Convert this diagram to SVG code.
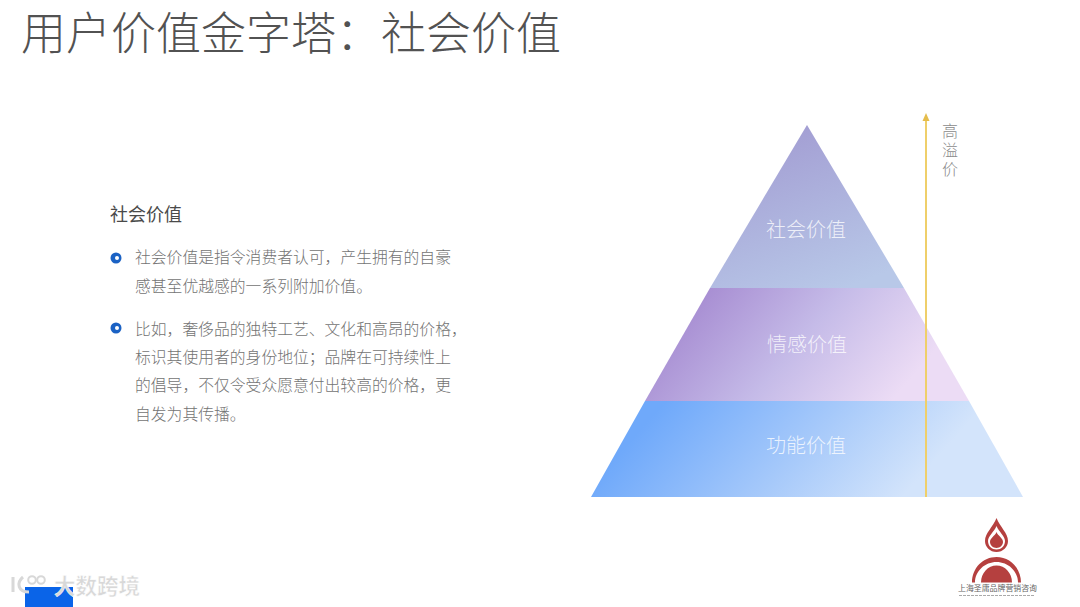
<svg xmlns="http://www.w3.org/2000/svg" width="1080" height="607" viewBox="0 0 1080 607">
<defs>
<style>
text{font-family:"Noto Sans CJK SC","Noto Sans",sans-serif}
.b{font-size:15.800px;fill:#737373;font-weight:300}
.p{font-size:20px;fill:#fff;fill-opacity:.78;text-anchor:middle;font-weight:300}
</style>
<linearGradient id="g1" gradientUnits="userSpaceOnUse" x1="780" y1="130" x2="840" y2="290"><stop offset="0" stop-color="#a39ed3"/><stop offset="1" stop-color="#b8c8e8"/></linearGradient>
<linearGradient id="g2" gradientUnits="userSpaceOnUse" x1="715" y1="275" x2="880" y2="415"><stop offset="0" stop-color="#a78dd2"/><stop offset=".5" stop-color="#c5bbe8"/><stop offset="1" stop-color="#ecdcf5"/></linearGradient>
<linearGradient id="g3" gradientUnits="userSpaceOnUse" x1="680" y1="385" x2="860" y2="545"><stop offset="0" stop-color="#6fa9fa"/><stop offset=".55" stop-color="#a6c9fa"/><stop offset="1" stop-color="#d3e4fb"/></linearGradient>
</defs>
<rect width="1080" height="607" fill="#fff"/>
<text x="21" y="50" font-size="45" fill="#525252" font-weight="300" id="title">用户价值金字塔：社会价值</text>
<g id="copy">
<text x="110" y="220.500" font-size="18" fill="#4a4a4a">社会价值</text>
<circle cx="116" cy="258" r="5.500" fill="#1b62c4"/><circle cx="117" cy="258" r="2" fill="#fff"/>
<text class="b" x="135" y="263">社会价值是指令消费者认可，产生拥有的自豪</text>
<text class="b" x="135" y="292">感甚至优越感的一系列附加价值。</text>
<circle cx="116" cy="328" r="5.500" fill="#1b62c4"/><circle cx="117" cy="328" r="2" fill="#fff"/>
<text class="b" x="135" y="334.500">比如，奢侈品的独特工艺、文化和高昂的价格，</text>
<text class="b" x="135" y="362.500">标识其使用者的身份地位；品牌在可持续性上</text>
<text class="b" x="135" y="390.500">的倡导，不仅令受众愿意付出较高的价格，更</text>
<text class="b" x="135" y="419.500">自发为其传播。</text>
</g>
<g id="node-social"><polygon points="807,125 904,288 710,288" fill="url(#g1)"/><text class="p" x="806" y="237">社会价值</text></g>
<g id="node-emotion"><polygon points="710,288 904,288 969,401 645,401" fill="url(#g2)"/><text class="p" x="807" y="352">情感价值</text></g>
<g id="node-function"><polygon points="645,401 969,401 1023,497 591,497" fill="url(#g3)"/><text class="p" x="806" y="453">功能价值</text></g>
<g id="connectors"><line x1="926" y1="497" x2="926" y2="120" stroke="#efcf6a" stroke-width="2"/><polygon points="926,113 929.500,121 922.500,121" fill="#e5bd4c"/></g>
<g id="axis-label"><text x="950" y="123" font-size="16" fill="#8a8a8a" font-weight="300" letter-spacing="3" style="writing-mode:vertical-rl">高溢价</text></g>
<g id="logo">
<path d="M996.500 518C993 527 985 533 985 541C985 547 990 552 996.500 552C1003 552 1008 547 1008 541C1008 533 1000 527 996.500 518Z" fill="#b5403f"/>
<path d="M996.500 526C994 532 988 536 988 541C988 546 992 549.500 996.500 549.500C1001 549.500 1005 546 1005 541C1005 536 999 532 996.500 526Z" fill="#fff"/>
<path d="M996.500 532C995 536 990 538 990 542C990 545 993 548 996.500 548C1000 548 1003 545 1003 542C1003 538 998 536 996.500 532Z" fill="#b5403f"/>
<path d="M972 582.500C972 568 983 557 996.500 557C1010 557 1021 568 1021 582.500H1018C1018 571 1008 562 996.500 562C985 562 975 571 975 582.500Z" fill="#b5403f"/>
<path d="M981 582.500C981 573 988 565.500 996.500 565.500C1005 565.500 1012 573 1012 582.500Z" fill="#b5403f"/>
<text x="997.500" y="591" font-size="7.900" fill="#666" text-anchor="middle">上海圣庸品牌营销咨询</text>
<line x1="959" y1="595.500" x2="1034" y2="595.500" stroke="#aaa" stroke-width="1.200" stroke-dasharray="3 1"/>
</g>
<g id="watermark">
<rect x="25" y="587" width="48" height="20" fill="#0a64e8"/>
<circle cx="32" cy="580" r="3.800" fill="none" stroke="#d8d8d8" stroke-width="2"/>
<circle cx="41" cy="580" r="3.800" fill="none" stroke="#d8d8d8" stroke-width="2"/>
<path d="M13 577V592M23 577C16 583 18 592 29 592" fill="none" stroke="#d8d8d8" stroke-width="3"/>
<text x="54" y="594" font-size="21.500" fill="#d8d8d8" stroke="#fff" stroke-width=".5" font-weight="700">大数跨境</text>
</g>
</svg>
